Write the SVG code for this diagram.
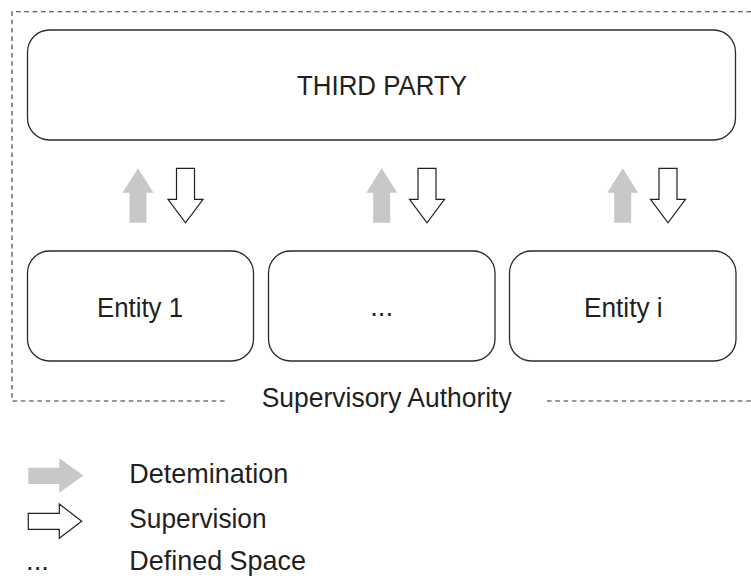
<svg xmlns="http://www.w3.org/2000/svg" width="751" height="578" viewBox="0 0 751 578">
<style>
.box{fill:#fff;stroke:#2b2b2b;stroke-width:1.3}
.dash{fill:none;stroke:#333;stroke-width:1.1;stroke-dasharray:4.6 3.7}
.t{font-family:"Liberation Sans",Arial,sans-serif;font-size:27.5px;fill:#231f20}
.det{fill:#c8c8c8;stroke:none}
.sup{fill:#fff;stroke:#231f20;stroke-width:1.2;stroke-linejoin:miter}
</style>
<defs>
<path id="up" d="M0,0 L15.5,24.5 L8.5,24.5 L8.5,54.5 L-8.5,54.5 L-8.5,24.5 L-15.5,24.5 Z"/>
<path id="down" d="M-9,0 L9,0 L9,31 L17.5,31 L0,54.5 L-17.5,31 L-9,31 Z"/>
</defs>
<rect width="751" height="578" fill="#fff"/>
<g id="supervisory-authority">
<path class="dash" d="M751,11.7 L12,11.7 L12,401 L228,401"/>
<path class="dash" d="M547,401 L751,401"/>
<text class="t" x="261.7" y="407" textLength="250" lengthAdjust="spacingAndGlyphs">Supervisory Authority</text>
</g>
<g id="third-party">
<rect class="box" x="27.5" y="30" width="708" height="110" rx="22"/>
<text class="t" x="297" y="95" textLength="170" lengthAdjust="spacingAndGlyphs">THIRD PARTY</text>
</g>
<g id="entity-1">
<rect class="box" x="27.5" y="251" width="226" height="110" rx="22"/>
<text class="t" x="97" y="316.7" textLength="86" lengthAdjust="spacingAndGlyphs">Entity 1</text>
</g>
<g id="entity-dots">
<rect class="box" x="268.5" y="251" width="226.5" height="110" rx="22"/>
<text class="t" x="381.7" y="316" text-anchor="middle">...</text>
</g>
<g id="entity-i">
<rect class="box" x="509.5" y="251" width="226.5" height="110" rx="22"/>
<text class="t" x="584" y="316.7" textLength="78.7" lengthAdjust="spacingAndGlyphs">Entity i</text>
</g>
<g id="connectors">
<use href="#up" class="det" x="138" y="168.3"/>
<use href="#down" class="sup" x="185.5" y="168.3"/>
<use href="#up" class="det" x="381.7" y="168.3"/>
<use href="#down" class="sup" x="427" y="168.3"/>
<use href="#up" class="det" x="622.7" y="168.3"/>
<use href="#down" class="sup" x="668" y="168.3"/>
</g>
<g id="legend">
<path class="det" d="M28.3,467.7 L59.3,467.7 L59.3,458.3 L83.3,475.5 L59.3,492.7 L59.3,484 L28.3,484 Z"/>
<text class="t" x="129.3" y="482.7" textLength="159" lengthAdjust="spacingAndGlyphs">Detemination</text>
<path class="sup" d="M28.3,513.3 L59.3,513.3 L59.3,504 L81.7,521.2 L59.3,538.3 L59.3,529.3 L28.3,529.3 Z"/>
<text class="t" x="129.3" y="528.3" textLength="137.3" lengthAdjust="spacingAndGlyphs">Supervision</text>
<text class="t" x="26" y="570">...</text>
<text class="t" x="129.3" y="570" textLength="176.7" lengthAdjust="spacingAndGlyphs">Defined Space</text>
</g>
</svg>
